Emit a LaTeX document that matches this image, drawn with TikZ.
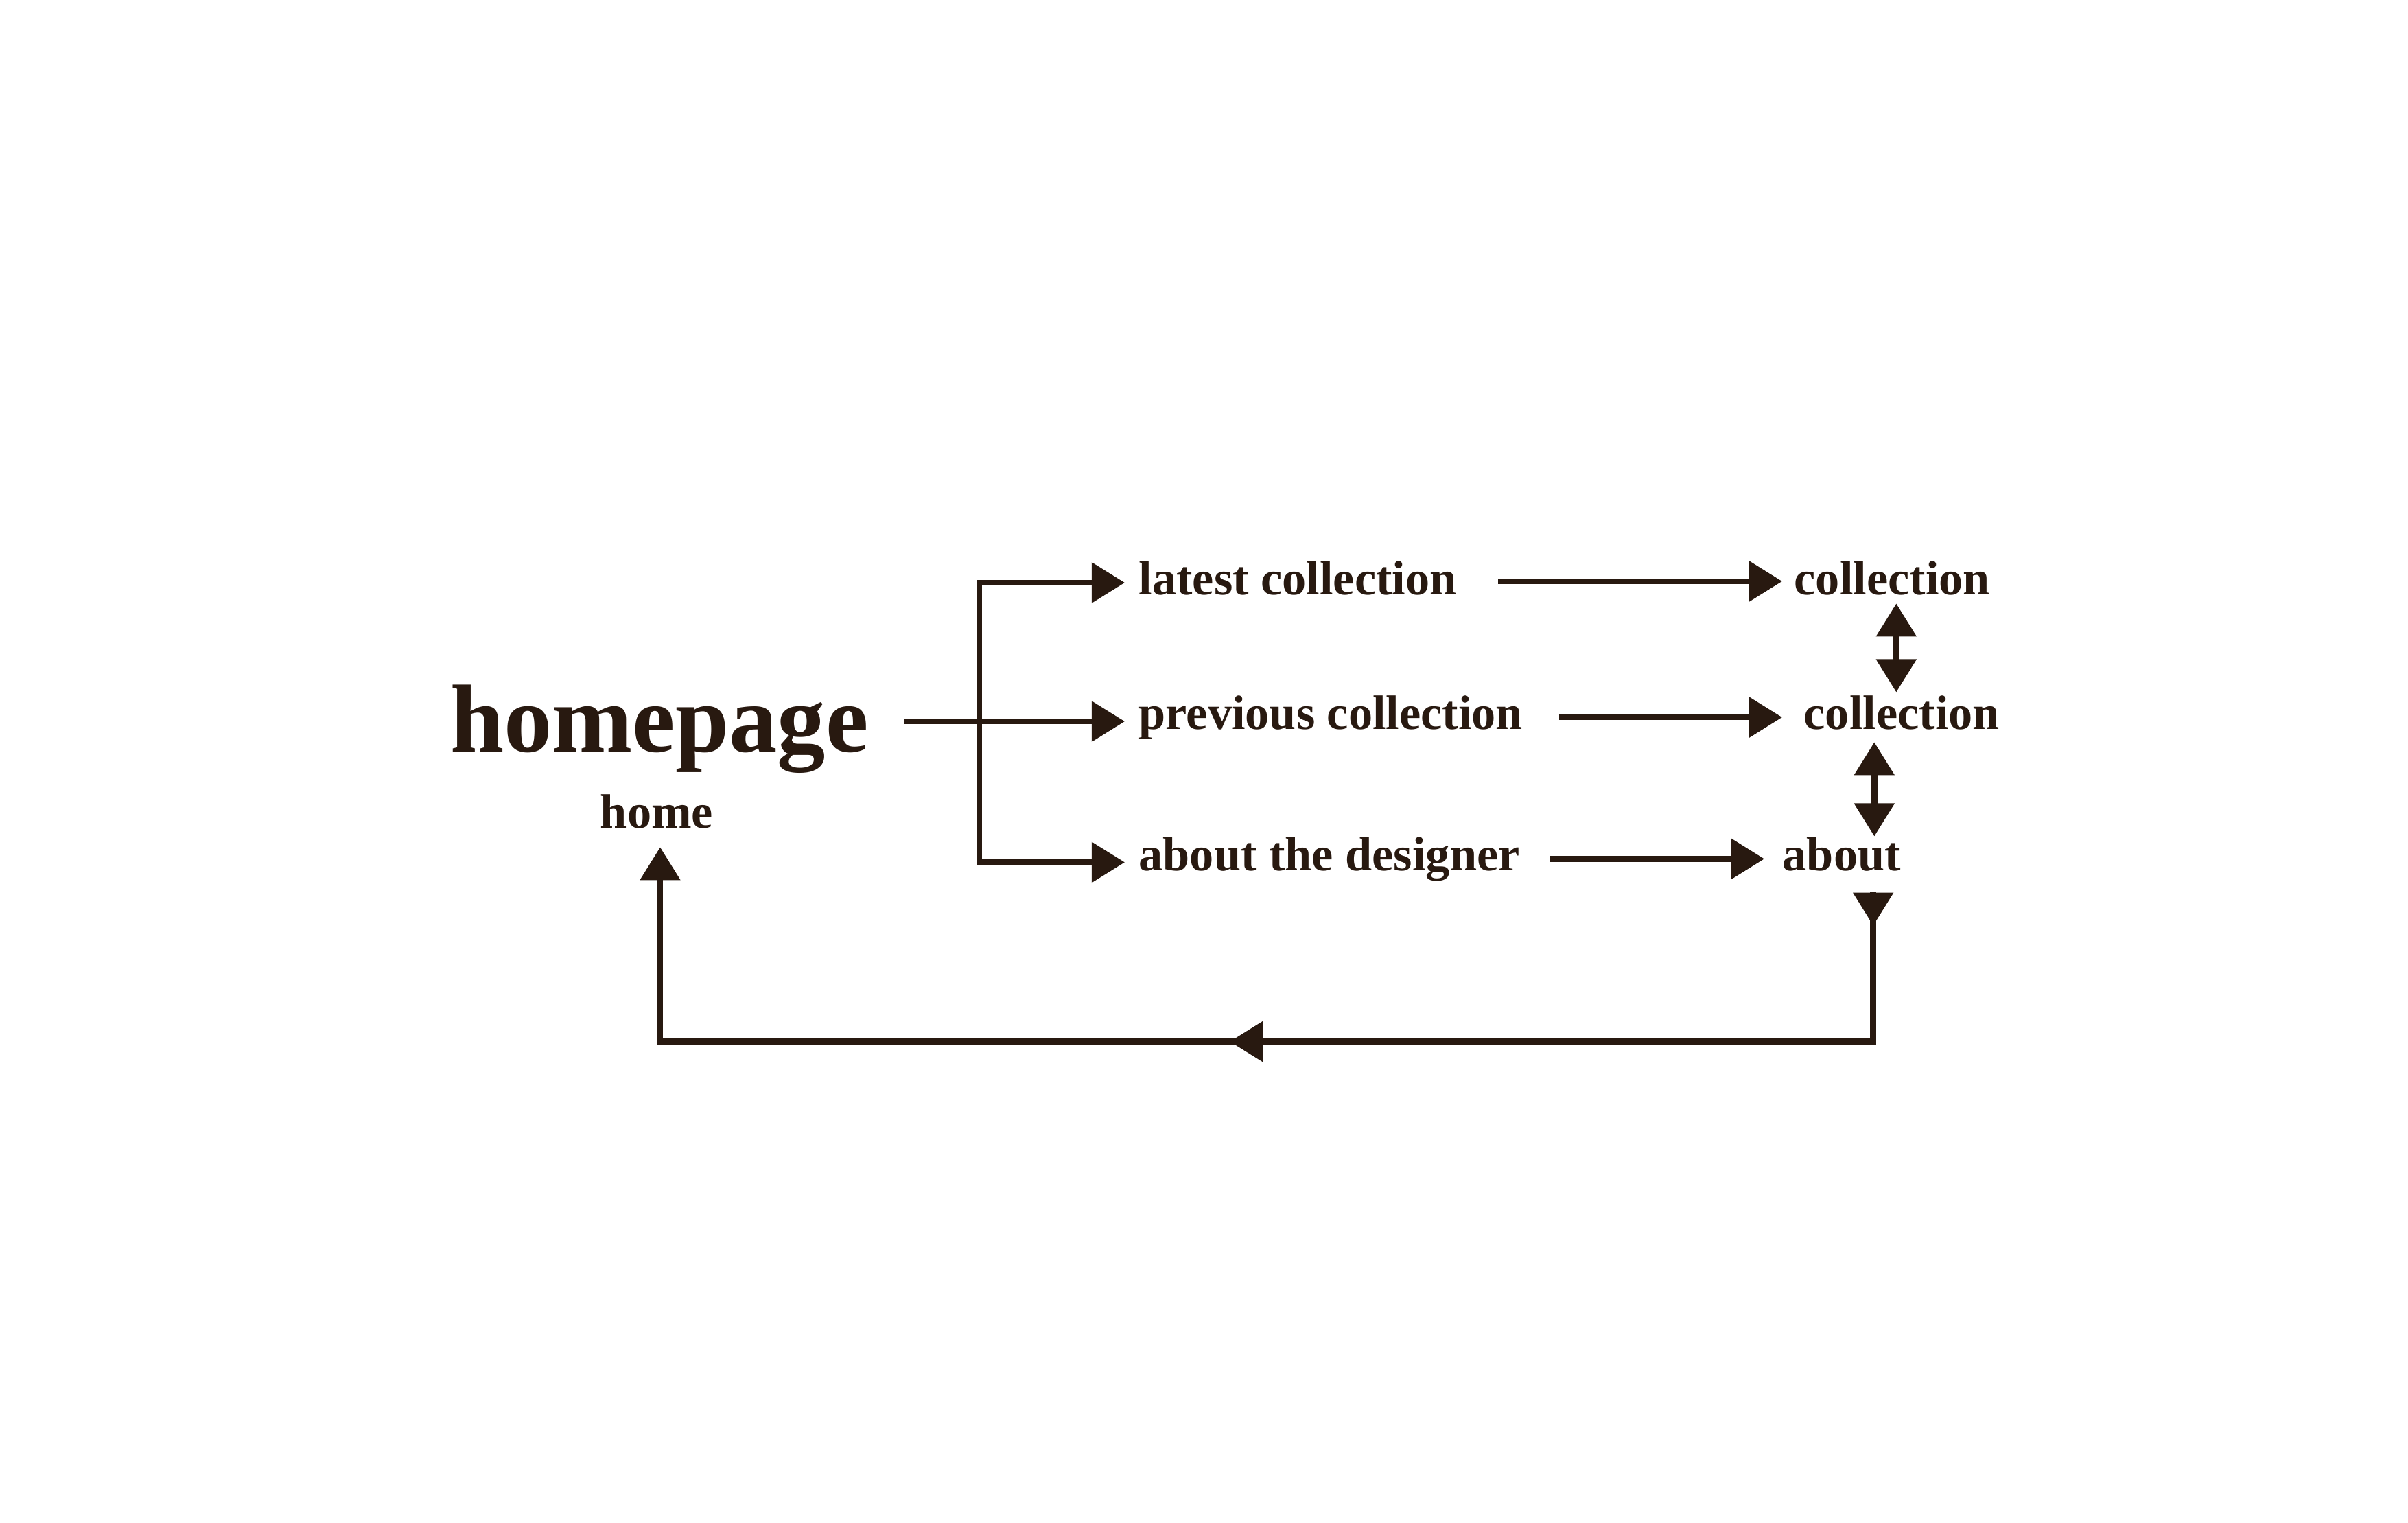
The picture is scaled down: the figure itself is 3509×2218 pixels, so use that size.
\documentclass[tikz,border=0pt]{standalone}
\usepackage{fontspec}
\setmainfont{Liberation Serif}
\usepackage{tikz}
\usetikzlibrary{arrows.meta, positioning, calc, decorations.markings}
\definecolor{ink}{RGB}{40,25,16}

\begin{document}
\begin{tikzpicture}[x=0.01cm, y=-0.01cm,
  >={Triangle[length=0.48cm,width=0.57cm]},
  every node/.style={text=ink, inner sep=0pt, font=\bfseries\fontsize{20}{24}\selectfont},
  link/.style={draw=ink, line width=2.5pt, ->}]
\useasboundingbox (0,0) rectangle (3509,2218);

% Pages
\node[anchor=base, font=\bfseries\fontsize{40}{48}\selectfont] (homepage) at (961,1095) {homepage};
\node[anchor=base] (home) at (957,1206) {home};
\node[anchor=base west] (latest) at (1659,866) {latest collection};
\node[anchor=base west] (previous) at (1659,1062) {previous collection};
\node[anchor=base west] (designer) at (1659,1268) {about the designer};
\node[anchor=base west] (coll1) at (2614,866) {collection};
\node[anchor=base west] (coll2) at (2628,1062) {collection};
\node[anchor=base west] (about) at (2597,1268) {about};

% Menu
\draw[link] ($(homepage.east |- previous.west)+(52,6)$) -- ($(previous.west)+(-20,6)$);
\draw[link, <->] ($(latest.west)+(-20,7)$) -| ($(designer.west)+(-232,5)$) -- ($(designer.west)+(-20,5)$);

% Pages to sections
\draw[link] ($(latest.east)+(60,5)$) -- ($(coll1.west |- latest.east)+(-17,5)$);
\draw[link] ($(previous.east)+(52,0)$) -- ($(coll2.west |- previous.east)+(-31,0)$);
\draw[link] ($(designer.east)+(44,0)$) -- ($(about.west |- designer.east)+(-26,0)$);

% Between sections
\draw[link, <->] ($(coll1.south)+(6,12)$) -- ($(coll1.south |- coll2.north)+(6,-4)$);
\draw[link, <->] ($(coll2.south)+(-40,18)$) -- ($(coll2.south |- about.north)+(-40,0)$);

% Back to home
\coordinate (back) at ($(about.south)+(46,30)$);
\coordinate (low) at ($(back)+(0,218)$);
\draw[link, postaction={decorate}, decoration={markings,
    mark=at position 0.49cm with {\arrow{>}},
    mark=at position 11.55cm with {\arrow{>}}}]
  (back) -- (low) -| ($(home.south)+(5,27)$);
\end{tikzpicture}
\end{document}
